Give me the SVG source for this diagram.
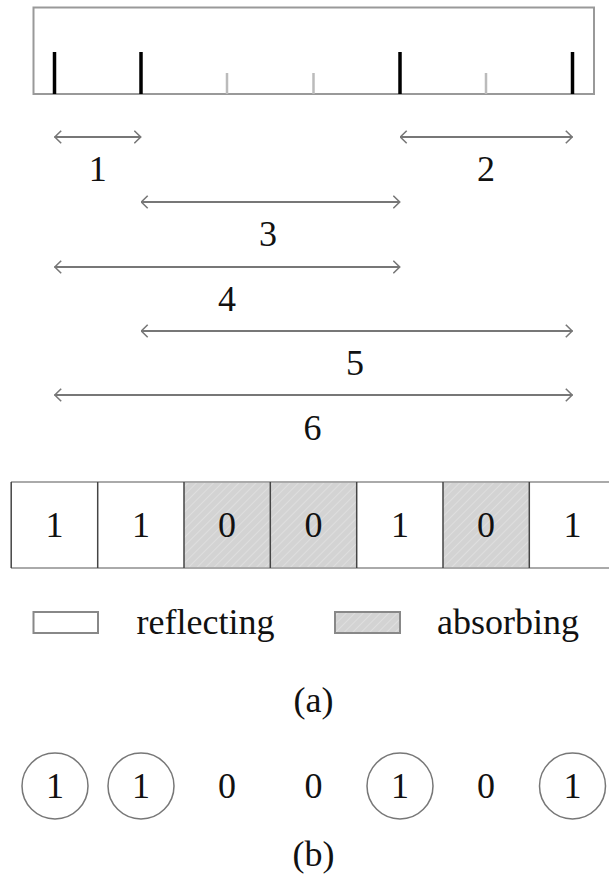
<svg xmlns="http://www.w3.org/2000/svg" width="609" height="879" viewBox="0 0 609 879">
  <style>
    .t { font-family: "Liberation Serif", "Times New Roman", serif; font-size: 36px; fill: #111; text-anchor: middle; }
    .tl { font-family: "Liberation Serif", "Times New Roman", serif; font-size: 36px; fill: #111; }
    .arr { stroke: #777; stroke-width: 2; fill: none; marker-start: url(#head); marker-end: url(#head); }
    .tall { stroke: #000; stroke-width: 3.5; }
    .short { stroke: #bbb; stroke-width: 2.5; }
    .refl { fill: #fff; }
    .abs { fill: url(#hatch); }
    .hline { stroke: #aaa; stroke-width: 2; }
    .vline { stroke: #444; stroke-width: 1.5; }
    .circ { fill: none; stroke: #777; stroke-width: 1.5; }
  </style>
  <defs>
    <marker id="head" viewBox="0 0 8 14" refX="7.5" refY="7" markerWidth="8" markerHeight="14" markerUnits="userSpaceOnUse" orient="auto-start-reverse">
      <path d="M0.8,0.8 L7.2,7 L0.8,13.2" fill="none" stroke="#777" stroke-width="1.6"/>
    </marker>
    <pattern id="hatch" patternUnits="userSpaceOnUse" width="6" height="6" patternTransform="rotate(45)">
      <rect width="6" height="6" fill="#d3d3d3"/>
      <line x1="0" y1="0" x2="0" y2="6" stroke="#e2e2e2" stroke-width="1.5"/>
    </pattern>
  </defs>

  <g id="ruler">
    <rect x="33.5" y="7.5" width="560.5" height="86.5" fill="#fff" stroke="#999" stroke-width="2"/>
    <line class="tall" x1="54.5" y1="52" x2="54.5" y2="94"/>
    <line class="tall" x1="141" y1="52" x2="141" y2="94"/>
    <line class="short" x1="227" y1="73" x2="227" y2="94"/>
    <line class="short" x1="313.5" y1="73" x2="313.5" y2="94"/>
    <line class="tall" x1="400" y1="52" x2="400" y2="94"/>
    <line class="short" x1="486" y1="73" x2="486" y2="94"/>
    <line class="tall" x1="572.5" y1="52" x2="572.5" y2="94"/>
  </g>

  <g id="connectors">
    <line class="arr" x1="54.5" y1="137" x2="141" y2="137"/>
    <line class="arr" x1="400" y1="137" x2="572.5" y2="137"/>
    <line class="arr" x1="141" y1="202" x2="400" y2="202"/>
    <line class="arr" x1="54.5" y1="267" x2="400" y2="267"/>
    <line class="arr" x1="141" y1="331" x2="572.5" y2="331"/>
    <line class="arr" x1="54.5" y1="395" x2="572.5" y2="395"/>
  </g>

  <g id="labels">
    <text class="t" x="97.7" y="181">1</text>
    <text class="t" x="486" y="181">2</text>
    <text class="t" x="268" y="246">3</text>
    <text class="t" x="227" y="311">4</text>
    <text class="t" x="355" y="375">5</text>
    <text class="t" x="312.5" y="440">6</text>
  </g>

  <g id="cells">
    <rect class="refl" x="11.2" y="482" width="86.5" height="86"/>
    <rect class="refl" x="97.7" y="482" width="86.3" height="86"/>
    <rect class="abs" x="184" y="482" width="86.3" height="86"/>
    <rect class="abs" x="270.3" y="482" width="86.4" height="86"/>
    <rect class="refl" x="356.7" y="482" width="86.3" height="86"/>
    <rect class="abs" x="443" y="482" width="86.3" height="86"/>
    <rect class="refl" x="529.3" y="482" width="86.5" height="86"/>
    <line class="hline" x1="11" y1="482" x2="609" y2="482"/>
    <line class="hline" x1="11" y1="568" x2="609" y2="568"/>
    <line class="vline" x1="11.2" y1="482" x2="11.2" y2="568"/>
    <line class="vline" x1="97.7" y1="482" x2="97.7" y2="568"/>
    <line class="vline" x1="184" y1="482" x2="184" y2="568"/>
    <line class="vline" x1="270.3" y1="482" x2="270.3" y2="568"/>
    <line class="vline" x1="356.7" y1="482" x2="356.7" y2="568"/>
    <line class="vline" x1="443" y1="482" x2="443" y2="568"/>
    <line class="vline" x1="529.3" y1="482" x2="529.3" y2="568"/>
    <text class="t" x="54.5" y="537">1</text>
    <text class="t" x="141" y="537">1</text>
    <text class="t" x="227" y="537">0</text>
    <text class="t" x="313.5" y="537">0</text>
    <text class="t" x="400" y="537">1</text>
    <text class="t" x="486" y="537">0</text>
    <text class="t" x="572.5" y="537">1</text>
  </g>

  <g id="legend">
    <rect x="33.5" y="612" width="64.5" height="21" fill="#fff" stroke="#888" stroke-width="2"/>
    <text class="tl" x="136.5" y="634">reflecting</text>
    <rect x="335" y="612" width="65" height="21" fill="url(#hatch)" stroke="#888" stroke-width="2"/>
    <text class="tl" x="437" y="634">absorbing</text>
  </g>

  <text id="caption-a" class="t" x="313.5" y="712">(a)</text>

  <g id="circles">
    <circle class="circ" cx="55" cy="786" r="33"/>
    <text class="t" x="55" y="798">1</text>
    <circle class="circ" cx="141" cy="786" r="33"/>
    <text class="t" x="141" y="798">1</text>
    <text class="t" x="227" y="798">0</text>
    <text class="t" x="313.5" y="798">0</text>
    <circle class="circ" cx="400" cy="786" r="33"/>
    <text class="t" x="400" y="798">1</text>
    <text class="t" x="486" y="798">0</text>
    <circle class="circ" cx="572.5" cy="786" r="33"/>
    <text class="t" x="572.5" y="798">1</text>
  </g>

  <text id="caption-b" class="t" x="313.5" y="866">(b)</text>
</svg>
